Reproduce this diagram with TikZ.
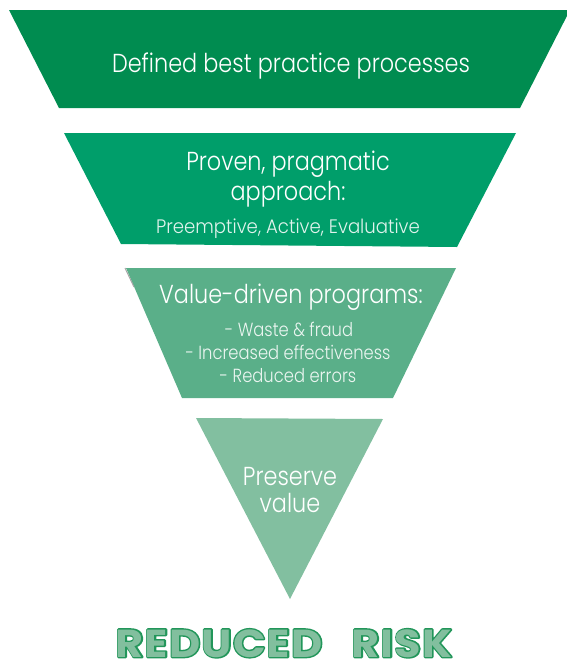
\documentclass[tikz,border=0pt]{standalone}
\usepackage{fontspec}
\setmainfont{Poppins Light}[FakeStretch=0.86]
\newfontfamily\subfont{Poppins Light}[FakeStretch=0.93]
\newfontfamily\rrfont{Poppins}[FakeStretch=1.1, LetterSpace=3]
\usetikzlibrary{calc}

\definecolor{tierA}{RGB}{0,140,80}
\definecolor{tierB}{RGB}{0,158,106}
\definecolor{tierC}{RGB}{90,175,137}
\definecolor{tierD}{RGB}{130,191,160}
\definecolor{rrline}{RGB}{34,150,90}
\definecolor{rrfill}{RGB}{130,191,158}

% stroked glyph outlines (PDF text render mode 1)
\newcommand{\strokedtext}[1]{%
  \special{pdf:literal direct 1 Tr 2.8 w 1 j}#1\special{pdf:literal direct 0 Tr}}

\tikzset{
  head/.style={text=white, anchor=base, inner sep=0pt,
    font=\fontsize{26}{26}\selectfont},
  sub/.style={text=white, text opacity=0.88, anchor=base, inner sep=0pt,
    font=\subfont\fontsize{19.5}{19.5}\selectfont},
  bullet/.style={text=white, text opacity=0.88, anchor=base, inner sep=0pt,
    font=\fontsize{19}{19}\selectfont},
  rr/.style={anchor=base, inner sep=0pt,
    font=\rrfont\bfseries\fontsize{39}{39}\selectfont},
}

\begin{document}
\begin{tikzpicture}[x=1pt, y=-1pt]
  \useasboundingbox (0,0) rectangle (566,662);

  % funnel tiers, widest on top
  \fill[tierA] (9,10) -- (570,10) -- (520,108) -- (59,108) -- cycle;
  \fill[tierB] (64,133) -- (516,133) -- (457,247) -- (121,244) -- cycle;
  \fill[tierC] (126,268) -- (456,268) -- (393,398) -- (182,398) -- cycle;
  \draw[gray!70, line width=1pt] (125,268) -- (134,287);
  \fill[tierD] (196,418) -- (383,419) -- (290,599) -- cycle;

  % tier texts
  \node[head] (t1) at (291,72) {Defined best practice processes};

  \node[head] (t2a) at (288,170) {Proven, pragmatic};
  \node[head] (t2b) at (288,200) {approach:};
  \node[sub]  (t2c) at (288,233) {Preemptive, Active, Evaluative};

  \node[head]   (t3a) at (291,303) {Value-driven programs:};
  \node[bullet] (t3b) at (289,336) {- Waste \& fraud};
  \node[bullet] (t3c) at (288,359) {- Increased effectiveness};
  \node[bullet] (t3d) at (288,382) {- Reduced errors};

  \node[head] (t4a) at (290,485) {Preserve};
  \node[head] (t4b) at (290,512) {value};

  % outlined caption: stroked outline under the light fill
  \coordinate (rrpos) at (284,657);
  \node[rr, text=rrline] (captionline) at (rrpos) {\strokedtext{REDUCED\hspace{0.75em}RISK}};
  \node[rr, text=rrfill] (caption) at (rrpos) {REDUCED\hspace{0.75em}RISK};
\end{tikzpicture}
\end{document}
